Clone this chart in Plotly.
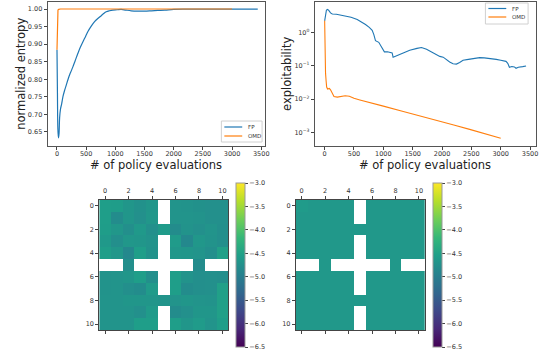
import plotly.graph_objects as go

W, H = 546, 353

# ---------------- data ----------------
fp_ent_x = [0, 8, 15, 25, 35, 45, 60, 80, 103, 130, 160, 190, 217, 250, 274, 310, 359, 400, 445, 490,
            530, 590, 644, 700, 758, 800, 844, 900, 958, 1030, 1100, 1180, 1271, 1380, 1500, 1620,
            1728, 1850, 2000, 2200, 2500, 2800, 3100, 3440]
fp_ent_y = [0.884, 0.76, 0.66, 0.633, 0.645, 0.69, 0.715, 0.73, 0.751, 0.768, 0.784, 0.800, 0.813,
            0.826, 0.836, 0.852, 0.874, 0.891, 0.907, 0.922, 0.936, 0.952, 0.964, 0.973, 0.981, 0.987,
            0.992, 0.995, 0.997, 0.998, 0.999, 0.997, 0.995, 0.994, 0.994, 0.995, 0.996, 0.997, 0.999,
            0.9995, 0.9995, 0.9995, 0.9995, 0.9995]

omd_ent_x = [0, 4, 8, 12, 17, 30, 60, 200, 1000, 2000, 3000]
omd_ent_y = [0.884, 0.95, 0.98, 0.992, 0.997, 0.999, 1.0, 1.0, 1.0, 1.0, 1.0]

fp_exp_x = [0, 15, 30, 50, 70, 100, 130, 200, 330, 450, 555, 620, 696, 760, 810, 838, 866, 922, 979,
            1018, 1070, 1119, 1150, 1166, 1227, 1346, 1450, 1573, 1650, 1736, 1800, 1850, 1910, 1962,
            2020, 2075, 2130, 2188, 2245, 2300, 2358, 2450, 2528, 2641, 2720, 2810, 2880, 2924, 3000,
            3037, 3090, 3120, 3148, 3190, 3233, 3261, 3300, 3375, 3432]
fp_exp_y = [2.2, 3.5, 4.6, 4.8, 4.5, 3.8, 3.5, 3.45, 3.1, 2.8, 2.4, 2.1, 1.7, 1.4, 1.15, 0.85, 0.56,
            0.5, 0.34, 0.26, 0.26, 0.25, 0.24, 0.18, 0.2, 0.25, 0.29, 0.33, 0.35, 0.31, 0.27, 0.24,
            0.21, 0.19, 0.18, 0.15, 0.13, 0.115, 0.112, 0.125, 0.145, 0.155, 0.165, 0.175, 0.172,
            0.167, 0.165, 0.155, 0.145, 0.14, 0.135, 0.118, 0.09, 0.095, 0.092, 0.084, 0.09, 0.094, 0.098]

omd_exp_x = [0, 3, 6, 15, 25, 34, 50, 80, 100, 130, 159, 216, 280, 350, 420, 500, 600, 775, 1000,
             1340, 1600, 1905, 2200, 2471, 2750, 3000]
omd_exp_y = [2.2, 0.5, 0.13, 0.06, 0.035, 0.023, 0.02, 0.021, 0.019, 0.015, 0.012, 0.0115, 0.0122,
             0.0126, 0.0122, 0.0106, 0.0095, 0.0080, 0.0062, 0.0043, 0.0033, 0.0023, 0.0017, 0.00125,
             0.00092, 0.00068]

grid_ticks = [0, 2, 4, 6, 8, 10]
N = None
fp_grid = [
    [-4.55, -4.57, -4.66, -4.74, -4.66, N, -4.70, -4.71, -4.73, -4.75, -4.75],
    [-4.56, -4.80, -4.66, -4.75, -4.65, N, -4.70, -4.70, -4.71, -4.75, -4.75],
    [-4.57, -4.65, -4.76, -4.62, -4.75, -4.60, -4.80, -4.71, -4.75, -4.70, -4.76],
    [-4.62, -4.76, -4.65, -4.66, -4.71, N, -4.60, -4.86, -4.65, -4.71, -4.76],
    [-4.56, -4.65, -4.86, -4.55, -4.72, N, -4.65, -4.66, -4.70, -4.76, -4.52],
    [N, N, -4.76, N, N, N, N, N, -4.80, N, N],
    [-4.71, -4.70, -4.66, -4.55, -4.76, N, -4.55, -4.71, -4.76, -4.75, -4.76],
    [-4.71, -4.70, -4.76, -4.80, -4.60, N, -4.55, -4.80, -4.76, -4.75, -4.52],
    [-4.70, -4.70, -4.66, -4.66, -4.66, -4.70, -4.70, -4.66, -4.70, -4.71, -4.52],
    [-4.70, -4.70, -4.70, -4.75, -4.60, N, -4.80, -4.75, -4.66, -4.66, -4.52],
    [-4.70, -4.70, -4.70, -4.55, -4.55, N, -4.55, -4.66, -4.60, -4.70, -4.55],
]
u = -4.644
omd_grid = [
    [-4.60, u, u, u, u, N, u, u, u, u, u],
    [u, u, u, u, u, N, u, u, u, u, u],
    [u, u, u, u, u, u, u, u, u, u, u],
    [u, u, u, u, u, N, u, u, u, u, u],
    [u, u, u, u, u, N, u, u, u, u, u],
    [N, N, u, N, N, N, N, N, u, N, N],
    [u, u, u, u, u, N, u, u, u, u, u],
    [u, u, u, u, u, N, u, u, u, u, u],
    [u, u, u, u, u, u, u, u, u, u, u],
    [u, u, u, u, u, N, u, u, u, u, u],
    [u, u, u, u, u, N, u, u, u, u, u],
]
cb_ticks = [-6.5, -6.0, -5.5, -5.0, -4.5, -4.0, -3.5, -3.0]
x_ticks = [0, 500, 1000, 1500, 2000, 2500, 3000, 3500]
ent_ticks = [0.65, 0.70, 0.75, 0.80, 0.85, 0.90, 0.95, 1.00]
exp_ticks = [1, 0.1, 0.01, 0.001]
exp_labels = ["10<sup>0</sup>", "10<sup>−1</sup>", "10<sup>−2</sup>", "10<sup>−3</sup>"]

BLUE, ORANGE = "#1f77b4", "#ff7f0e"

# ---------------- helpers ----------------
def px(x):
    return x / W

def py(y):
    return 1 - y / H

fig = go.Figure()

fig.add_trace(go.Scatter(x=fp_ent_x, y=fp_ent_y, mode="lines", line=dict(color=BLUE, width=1.2),
                         line_shape="spline", showlegend=False, xaxis="x", yaxis="y"))
fig.add_trace(go.Scatter(x=omd_ent_x, y=omd_ent_y, mode="lines", line=dict(color=ORANGE, width=1.2),
                         showlegend=False, xaxis="x", yaxis="y"))
fig.add_trace(go.Scatter(x=fp_exp_x, y=fp_exp_y, mode="lines", line=dict(color=BLUE, width=1.1),
                         showlegend=False, xaxis="x2", yaxis="y2"))
fig.add_trace(go.Scatter(x=omd_exp_x, y=omd_exp_y, mode="lines", line=dict(color=ORANGE, width=1.1),
                         showlegend=False, xaxis="x2", yaxis="y2"))

def cbar(x_left):
    return dict(x=px(x_left), xanchor="left", xref="paper", xpad=0, ypad=0,
                y=py(265), yanchor="middle", len=164 / H, lenmode="fraction",
                thickness=9, thicknessmode="pixels", outlinewidth=1, outlinecolor="#999",
                ticks="outside", ticklen=3, tickwidth=0.8, tickcolor="#444",
                tickvals=cb_ticks, tickformat=".1f",
                tickfont=dict(size=6.5, color="#333", family="DejaVu Sans"))

fig.add_trace(go.Heatmap(z=fp_grid, x=list(range(11)), y=list(range(11)), colorscale="Viridis",
                         zmin=-6.5, zmax=-3.0, colorbar=cbar(238), xaxis="x3", yaxis="y3"))
fig.add_trace(go.Heatmap(z=omd_grid, x=list(range(11)), y=list(range(11)), colorscale="Viridis",
                         zmin=-6.5, zmax=-3.0, colorbar=cbar(436), xaxis="x4", yaxis="y4"))

tickfont = dict(size=6.5, color="#333", family="DejaVu Sans")
common = dict(showline=True, mirror=True, linecolor="#555", linewidth=1, ticks="outside",
              ticklen=3, tickwidth=0.8, tickcolor="#444", showgrid=False, zeroline=False,
              tickfont=tickfont)
hm_x = dict(showline=True, mirror="ticks", linecolor="#444", linewidth=1, ticks="outside",
            ticklen=3, tickwidth=0.8, tickcolor="#444", showgrid=False, zeroline=False,
            tickfont=tickfont, side="top", range=[-0.5, 10.5], tickvals=grid_ticks)
hm_y = dict(showline=True, mirror=True, linecolor="#444", linewidth=1, ticks="outside",
            ticklen=3, tickwidth=0.8, tickcolor="#444", showgrid=False, zeroline=False,
            tickfont=tickfont, range=[10.5, -0.5], tickvals=grid_ticks)

top_dom_y = [py(146), py(2)]
hm_dom_y = [py(330), py(200)]

fig.update_layout(
    width=W, height=H, margin=dict(l=0, r=0, t=0, b=0),
    paper_bgcolor="white", plot_bgcolor="white",
    font=dict(family="DejaVu Sans"),
    xaxis=dict(domain=[px(48), px(267)], range=[-160, 3565], tickvals=x_ticks,
               anchor="y", ticklabelstandoff=-2, **common),
    yaxis=dict(domain=top_dom_y, range=[0.610, 1.020], tickvals=ent_ticks,
               tickformat=".2f", anchor="x", **common),
    xaxis2=dict(domain=[px(317), px(540)], range=[-170, 3602], tickvals=x_ticks,
                anchor="y2", ticklabelstandoff=-2, **common),
    yaxis2=dict(domain=top_dom_y, type="log", range=[-3.40, 0.905], tickvals=exp_ticks,
                ticktext=exp_labels, anchor="x2", **common),
    xaxis3=dict(domain=[px(100), px(230)], anchor="y3", **hm_x),
    yaxis3=dict(domain=hm_dom_y, anchor="x3", **hm_y),
    xaxis4=dict(domain=[px(298), px(428)], anchor="y4", **hm_x),
    yaxis4=dict(domain=hm_dom_y, anchor="x4", **hm_y),
)

title_font = dict(size=11.5, color="#222", family="DejaVu Sans")
ann = [
    dict(text="normalized entropy", x=px(21), y=py(74), textangle=-90),
    dict(text="exploitability", x=px(289), y=py(74), textangle=-90),
    dict(text="# of policy evaluations", x=px(157.5), y=py(165)),
    dict(text="# of policy evaluations", x=px(428), y=py(165)),
]
for a in ann:
    fig.add_annotation(xref="paper", yref="paper", showarrow=False, xanchor="center", yanchor="middle",
                       font=title_font, **a)

# manual legends (matplotlib style)
def legend(x0, y0, w, h, rows):
    fig.add_shape(type="rect", xref="paper", yref="paper", x0=px(x0), x1=px(x0 + w), y0=py(y0 + h), y1=py(y0),
                  line=dict(color="#d0d0d0", width=1), fillcolor="rgba(255,255,255,0.8)", layer="above")
    for (label, color, yy) in rows:
        fig.add_shape(type="line", xref="paper", yref="paper", x0=px(x0 + 3), x1=px(x0 + 21),
                      y0=py(yy), y1=py(yy), line=dict(color=color, width=1.2), layer="above")
        fig.add_annotation(xref="paper", yref="paper", x=px(x0 + 25), y=py(yy), text=label, showarrow=False,
                           xanchor="left", yanchor="middle",
                           font=dict(size=5.5, color="#333", family="DejaVu Sans"))

legend(223, 121, 41, 21, [("FP", BLUE, 127), ("OMD", ORANGE, 136)])
legend(489, 3, 43, 21, [("FP", BLUE, 8.5), ("OMD", ORANGE, 17)])

fig.write_html("out.html")
